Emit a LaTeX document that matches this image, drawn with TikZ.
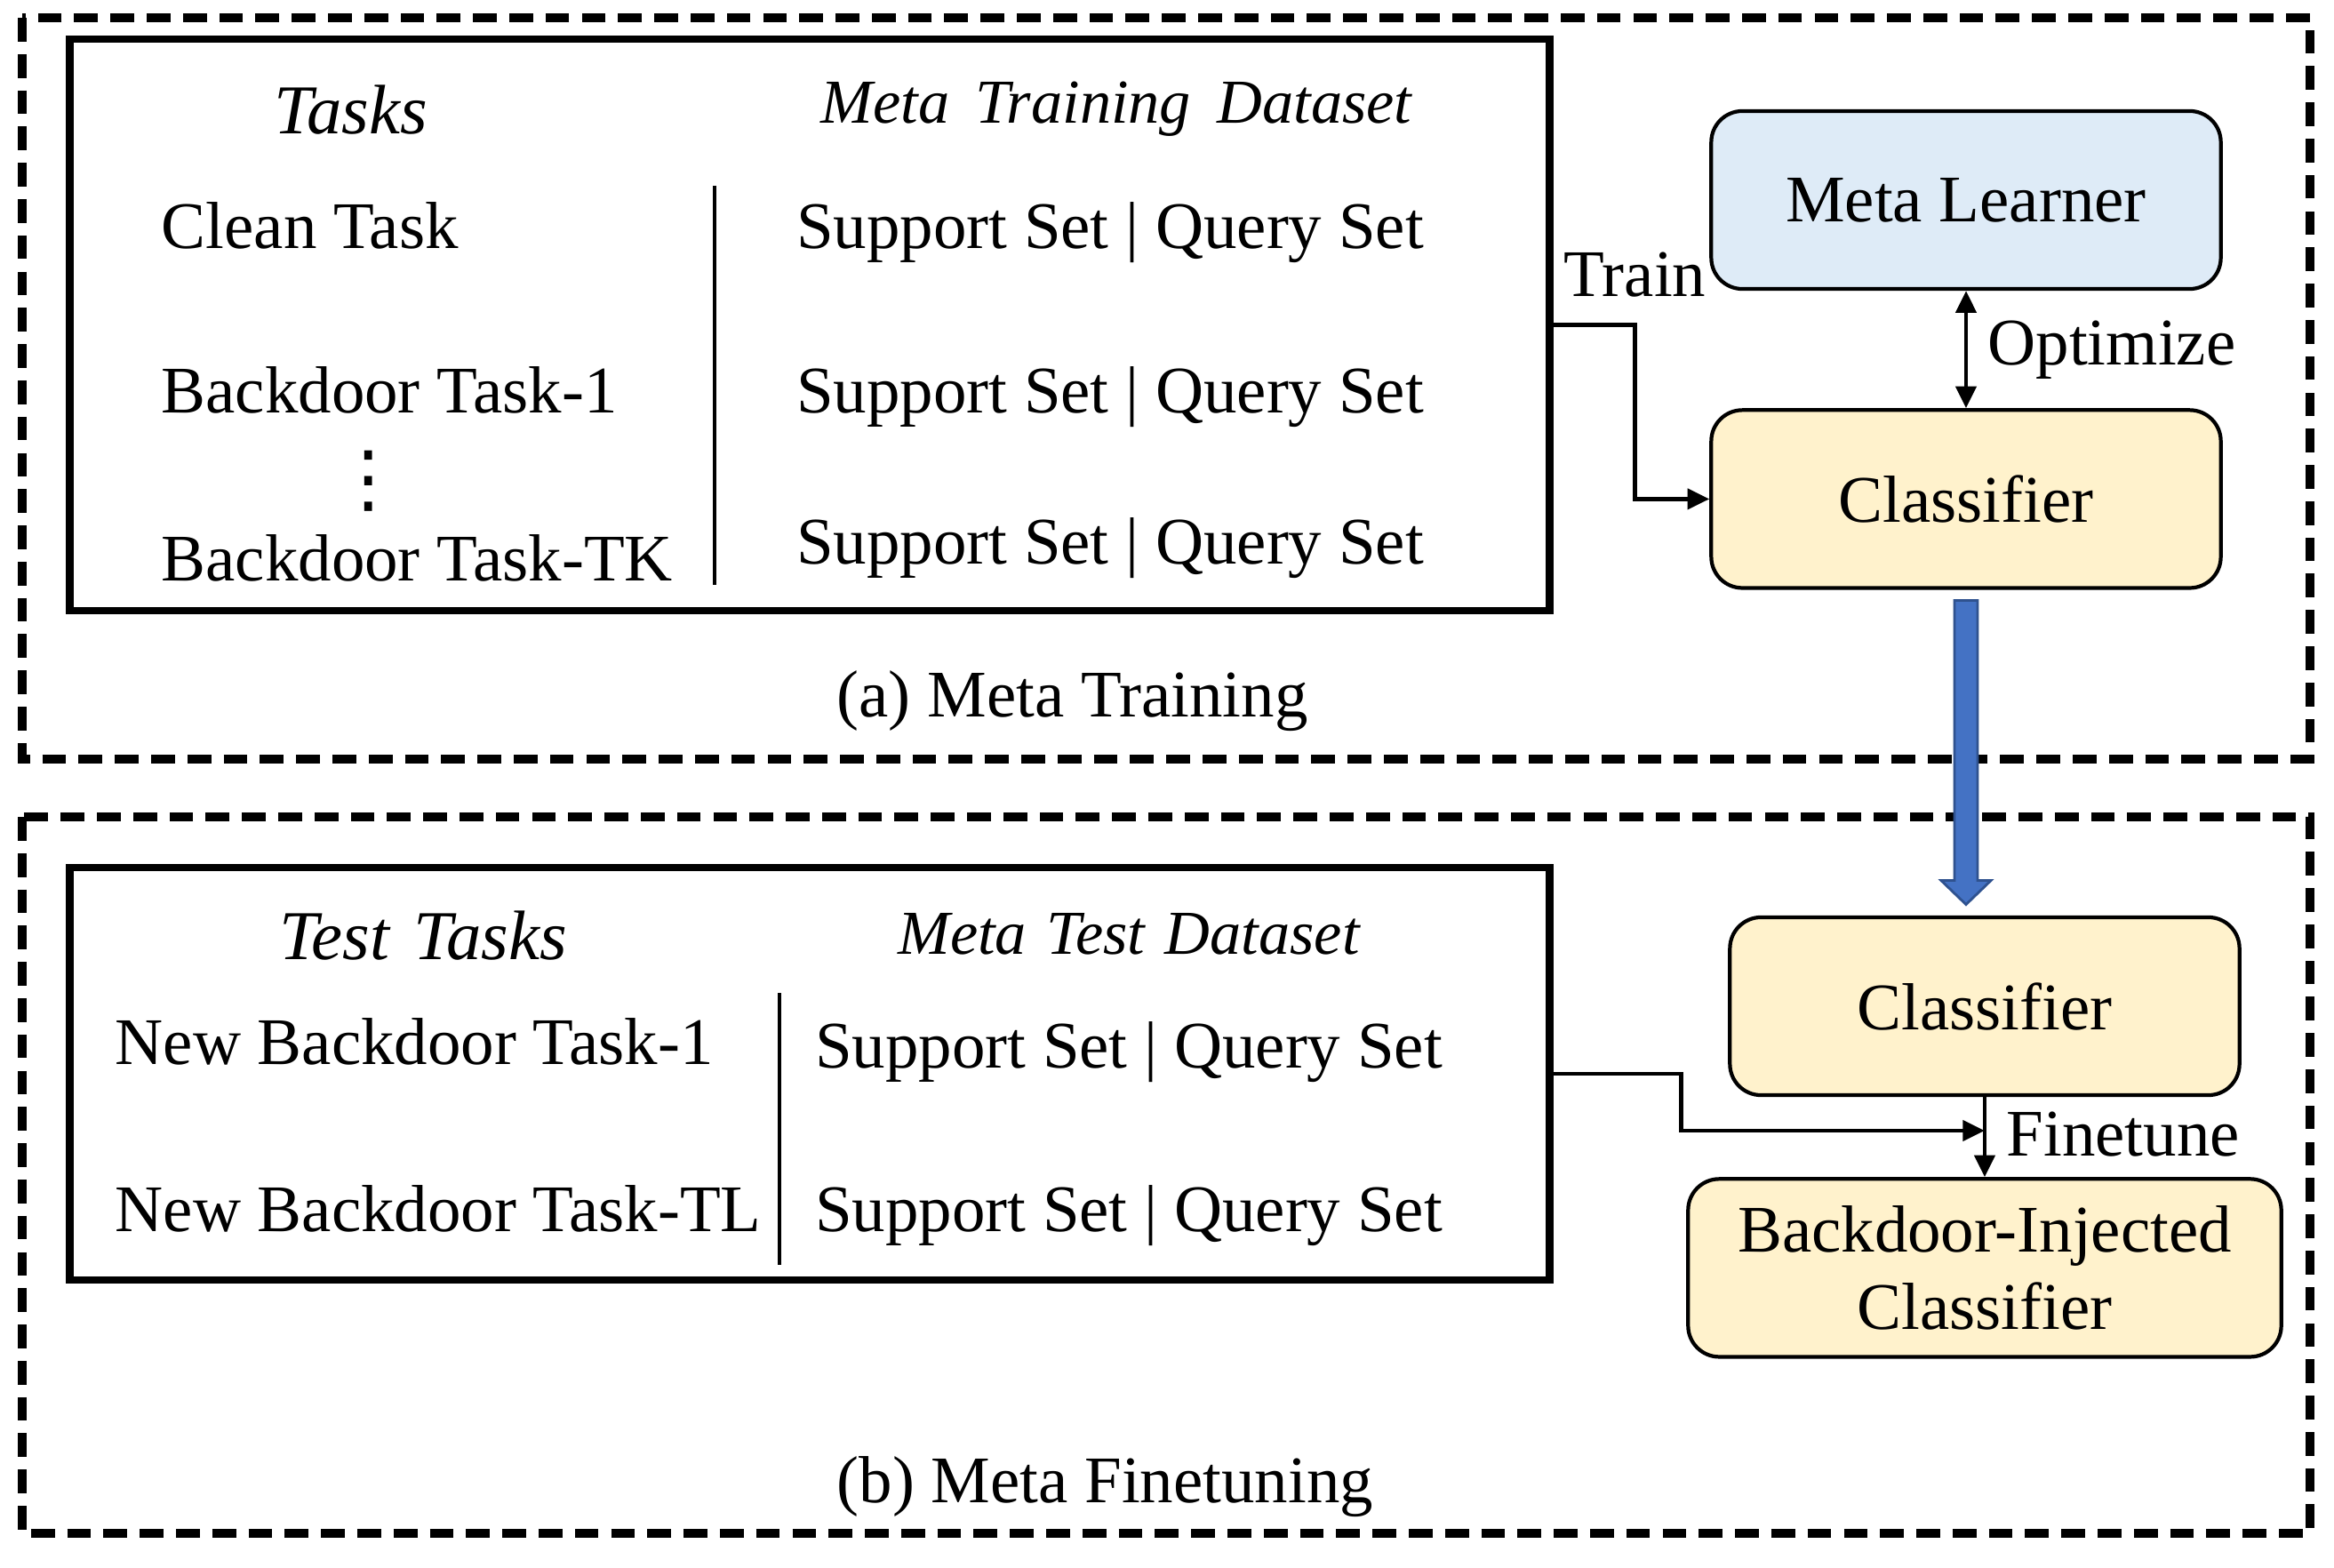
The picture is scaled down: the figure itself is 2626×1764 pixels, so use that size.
\documentclass[tikz,border=0pt]{standalone}
\usepackage{fontspec}
\setmainfont{Liberation Serif}
\newfontfamily\symfont{DejaVu Sans}
\usetikzlibrary{arrows.meta,calc,positioning}

\definecolor{learnerblue}{HTML}{DEEBF7}
\definecolor{clsyellow}{HTML}{FFF2CC}
\definecolor{flowblue}{HTML}{4472C4}
\definecolor{flowedge}{HTML}{2F528F}
\newcommand{\mainfs}{\fontsize{21.3}{25}\selectfont}
\newcommand{\taskfs}{\fontsize{22.4}{26}\selectfont\itshape}
\newcommand{\datafs}{\fontsize{20}{24}\selectfont\itshape}

\begin{document}
\begin{tikzpicture}[x=0.01cm,y=-0.01cm,>={Triangle[length=7pt,width=6.5pt]},
  every node/.style={font=\mainfs},
  phase/.style={draw,line width=2.6pt,dash pattern=on 7.6pt off 4pt},
  dataset/.style={draw,line width=2.3pt,minimum width=16.64cm},
  model/.style={draw,line width=1.2pt,rounded corners=0.35cm,minimum width=5.73cm,minimum height=2cm,align=center},
  item/.style={anchor=base west,inner sep=0pt},
  row/.style={anchor=base,inner sep=0pt},
  sep/.style={line width=1.2pt},
  flow/.style={->,line width=1.3pt}]
\useasboundingbox (0,0) rectangle (2626,1764);

% dashed phase frames
\draw[phase] (25,20) rectangle (2599,854);
\draw[phase] (25,919) rectangle (2599,1725);

% (a) meta training
\node[dataset,minimum height=6.43cm] (trainset) at (911,365.5) {};
\node[row,font=\taskfs] (taskhead) at (395,151) {Tasks};
\node[row,font=\datafs] (datahead) at (1256,139) {Meta\hspace{0.42em}Training\hspace{0.42em}Dataset};
\node[item] (clean) at (181,280) {Clean Task};
\node[item] (bd1) at (181,465) {Backdoor Task-1};
\node[inner sep=0pt,font=\symfont\fontsize{24}{28}\selectfont] (dots) at (415,541) {⋮};
\node[item] (bdtk) at (181,653) {Backdoor Task-TK};
\draw[sep] (804,209) -- (804,658);
\node[row] (sq1) at (1249,280) {Support Set | Query Set};
\node[row] (sq2) at (1249,465) {Support Set | Query Set};
\node[row] (sq3) at (1249,635) {Support Set | Query Set};
\node[item] (capa) at (941,807) {(a) Meta Training};

\node[model,fill=learnerblue] (learner) at (2212,225) {Meta Learner};
\node[model,fill=clsyellow,below=1.32cm of learner] (cls) {Classifier};

\draw[flow] (trainset.east) -- ++(92,0) node[above,yshift=5pt] {Train} |- (cls.west);
\draw[flow,<->] (learner) -- node[right,xshift=3pt] {Optimize} (cls);

% transfer arrow
\draw[fill=flowblue,draw=flowedge,line width=0.8pt]
  ($(cls.south)+(-13,12)$) -- ($(cls.south)+(13,12)$) -- ($(cls.south)+(13,327)$)
  -- ($(cls.south)+(28,327)$) -- ($(cls.south)+(0,354)$) -- ($(cls.south)+(-28,327)$)
  -- ($(cls.south)+(-13,327)$) -- cycle;

% (b) meta finetuning
\node[dataset,minimum height=4.64cm] (testset) at (911,1208) {};
\node[row,font=\taskfs] (testhead) at (476,1079) {Test\hspace{0.35em}Tasks};
\node[row,font=\datafs] (testdata) at (1270,1073) {Meta\hspace{0.32em}Test\hspace{0.32em}Dataset};
\node[item] (nbd1) at (129,1197) {New Backdoor Task-1};
\node[item] (nbdtl) at (129,1385) {New Backdoor Task-TL};
\draw[sep] (877,1117) -- (877,1423);
\node[row] (tsq1) at (1270,1201) {Support Set | Query Set};
\node[row] (tsq2) at (1270,1385) {Support Set | Query Set};
\node[item] (capb) at (941,1690) {(b) Meta Finetuning};

\node[model,fill=clsyellow] (clsft) at (2233,1132) {Classifier};
\node[model,fill=clsyellow,minimum width=6.67cm,below=0.9cm of clsft] (injected) {Backdoor-Injected\\Classifier};

\coordinate (ftjoin) at ($(clsft.south)!0.42!(injected.north)$);
\draw[flow] (clsft) -- node[right,pos=0.46,xshift=3pt] {Finetune} (injected);
\draw[flow] (testset.east) -- ++(144,0) |- (ftjoin);

\end{tikzpicture}
\end{document}
